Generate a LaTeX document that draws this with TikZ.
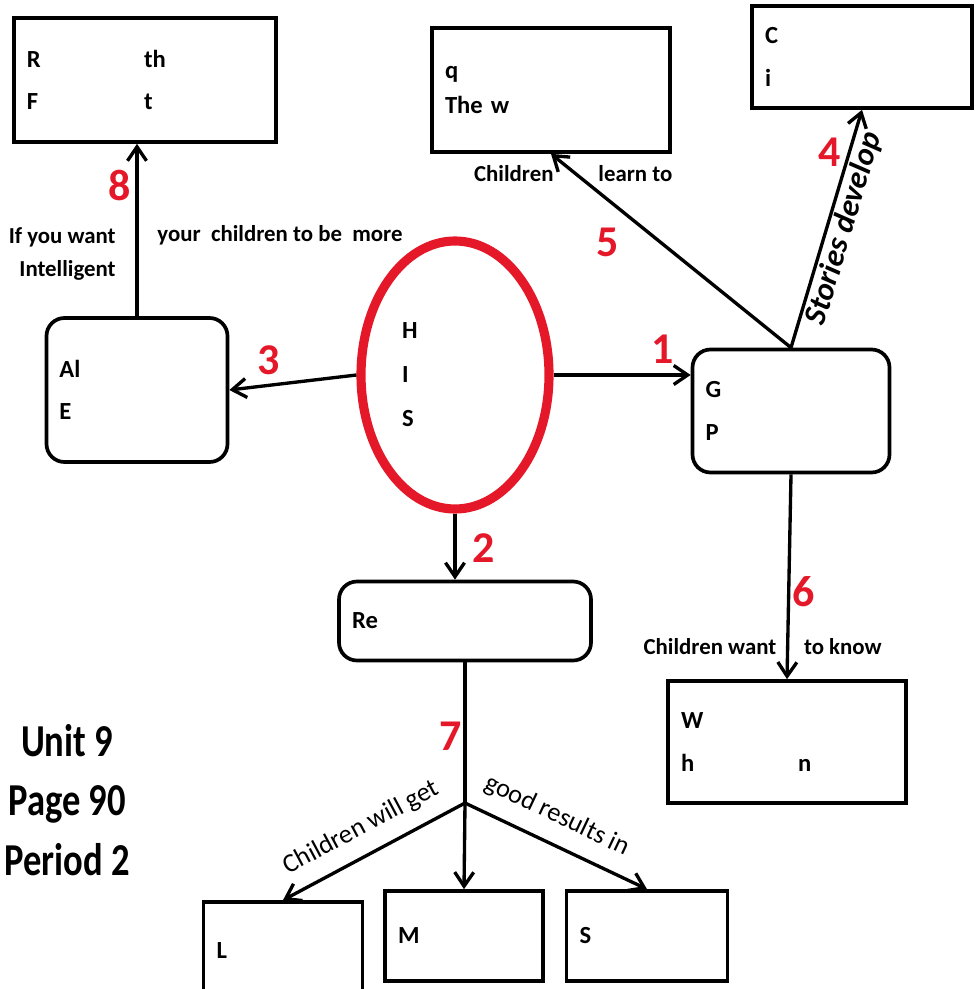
\documentclass[tikz,border=0pt]{standalone}
\usepackage{fontspec}
\setmainfont{Carlito}
\usetikzlibrary{shapes.geometric, arrows.meta}
\definecolor{mapred}{RGB}{228,24,40}
\newcommand\gapcol[1]{\makebox[23.4mm][l]{#1}}

\begin{document}
\begin{tikzpicture}[
  x=0.2mm, y=-0.2mm,
  >={Straight Barb[length=2.8mm, width=3.8mm]},
  box/.style={rectangle, draw, line width=2.1pt, inner xsep=2.6mm, inner ysep=0pt,
              align=left, font=\fontsize{14}{24}\selectfont\bfseries},
  roundbox/.style={box, rounded corners=3.6mm},
  arrow/.style={->, line width=1.9pt},
  lbl/.style={inner sep=1pt, font=\fontsize{13}{19}\selectfont\bfseries},
  slant/.style={inner sep=1pt, sloped, font=\fontsize{15}{15}\selectfont},
  num/.style={inner sep=0pt, text=mapred, font=\fontsize{25}{25}\selectfont\bfseries}
]
\useasboundingbox (0,0) rectangle (975,989);

% centre
\node[ellipse, draw=mapred, line width=5.2pt, minimum width=37.6mm, minimum height=53.6mm,
      text width=21.2mm, align=left, inner sep=0pt,
      font=\fontsize{14}{25}\selectfont\bfseries] (his) at (455,375) {H\\I\\S};

% boxes
\node[box, text width=47.2mm, minimum height=24.8mm] (rf) at (145,80) {\gapcol{R}th\\\gapcol{F}t};
\node[box, text width=42.4mm, minimum height=24.8mm] (q) at (551,90) {q\\[-4pt]The w};
\node[box, text width=38.8mm, minimum height=20.4mm] (ci) at (862,57) {C\\i};
\node[roundbox, text width=31mm, minimum height=28.8mm] (ae) at (137,390) {Al\\E};
\node[roundbox, text width=34.2mm, minimum height=24.6mm] (gp) at (791,411) {G\\P};
\node[roundbox, text width=45.2mm, minimum height=15.8mm] (re) at (465,621) {Re};
\node[box, text width=42.4mm, minimum height=24.4mm] (wh) at (787,742) {W\\\gapcol{h}n};
\node[box, text width=26.6mm, minimum height=19.6mm] (l) at (283,951) {L};
\node[box, text width=26.4mm, minimum height=18mm] (m) at (464,936) {M};
\node[box, text width=27mm, minimum height=18mm] (s) at (647,936) {S};
\coordinate (split) at (465,803);

% connectors
\draw[arrow] (his.east) -- (his.east -| gp.west);
\draw[arrow] (his.south) -- (his.south |- re.north);
\draw[arrow] (his.west) -- (ae.east);
\draw[arrow] (gp.north) -- node[pos=0.52, slant, below=0pt, font=\fontsize{18}{18}\selectfont\bfseries\itshape] (stories) {Stories develop} (ci.south);
\draw[arrow] (gp.north) -- node[pos=0.9, left=3.6mm, lbl] (chl) {Children}
  node[pos=0.9, right=4mm, lbl] (lrn) {learn to} (q.south);
\draw[arrow] (gp.south) -- node[pos=0.84, left=1.6mm, lbl] (cwant) {Children want}
  node[pos=0.84, right=2.6mm, lbl] (know) {to know} (wh.north);
\draw[arrow] (ae.north) -- node[pos=0.36, left=3.6mm, lbl, align=right] (ifyou) {If you want\\Intelligent}
  node[pos=0.47, right=3.4mm, lbl] (more) {your~~children to be~~more} (ae.north |- rf.south);
\draw[line width=1.9pt] (re.south) -- (split);
\draw[arrow] (split) -- node[pos=0.5, slant, above=2.4mm] (willget) {Children will get} (l.north);
\draw[arrow] (split) -- (m.north);
\draw[arrow] (split) -- node[pos=0.44, slant, above=2.6mm] (results) {good results in} (s.north);

% numbers
\node[num] (n1) at (663,349) {1};
\node[num] (n2) at (484,548) {2};
\node[num] (n3) at (269,360) {3};
\node[num] (n4) at (830,152) {4};
\node[num] (n5) at (608,242) {5};
\node[num] (n6) at (804,592) {6};
\node[num] (n7) at (451,736) {7};
\node[num] (n8) at (120,185) {8};

\node[align=center, inner sep=0pt, font=\fontsize{26}{34}\selectfont\bfseries] (unit) at (67,800)
  {\scalebox{0.8}[1]{Unit 9}\\\scalebox{0.8}[1]{Page 90}\\\scalebox{0.8}[1]{Period 2}};
\end{tikzpicture}
\end{document}
